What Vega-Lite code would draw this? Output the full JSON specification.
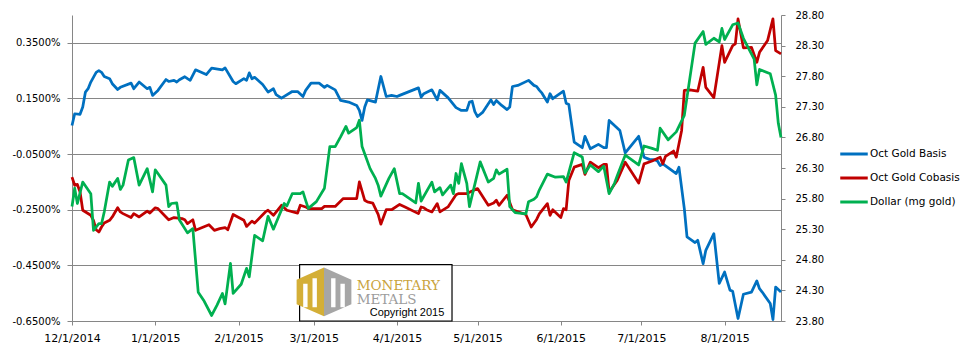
{
  "$schema": "https://vega.github.io/schema/vega-lite/v6.json",
  "width": 709,
  "height": 306,
  "autosize": {"type": "none"},
  "padding": {"left": 72, "top": 15, "right": 192, "bottom": 34},
  "background": "white",
  "config": {
    "view": {"stroke": null},
    "font": "DejaVu Sans",
    "axis": {"labelFont": "DejaVu Sans", "labelColor": "#000000", "domainColor": "#868686", "tickColor": "#868686", "domainWidth": 1, "tickWidth": 1},
    "legend": {"labelFont": "DejaVu Sans", "labelColor": "#000000"}
  },
  "data": {"values": [
    {"date":"2014-12-01","series":"Oct Gold Basis","value":0.053},
    {"date":"2014-12-02","series":"Oct Gold Basis","value":0.095},
    {"date":"2014-12-04","series":"Oct Gold Basis","value":0.093},
    {"date":"2014-12-05","series":"Oct Gold Basis","value":0.119},
    {"date":"2014-12-06","series":"Oct Gold Basis","value":0.173},
    {"date":"2014-12-07","series":"Oct Gold Basis","value":0.185},
    {"date":"2014-12-08","series":"Oct Gold Basis","value":0.209},
    {"date":"2014-12-10","series":"Oct Gold Basis","value":0.244},
    {"date":"2014-12-11","series":"Oct Gold Basis","value":0.25},
    {"date":"2014-12-12","series":"Oct Gold Basis","value":0.244},
    {"date":"2014-12-13","series":"Oct Gold Basis","value":0.229},
    {"date":"2014-12-15","series":"Oct Gold Basis","value":0.221},
    {"date":"2014-12-16","series":"Oct Gold Basis","value":0.203},
    {"date":"2014-12-18","series":"Oct Gold Basis","value":0.182},
    {"date":"2014-12-19","series":"Oct Gold Basis","value":0.19},
    {"date":"2014-12-23","series":"Oct Gold Basis","value":0.205},
    {"date":"2014-12-24","series":"Oct Gold Basis","value":0.185},
    {"date":"2014-12-26","series":"Oct Gold Basis","value":0.209},
    {"date":"2014-12-29","series":"Oct Gold Basis","value":0.185},
    {"date":"2014-12-30","series":"Oct Gold Basis","value":0.19},
    {"date":"2014-12-31","series":"Oct Gold Basis","value":0.161},
    {"date":"2015-01-02","series":"Oct Gold Basis","value":0.179},
    {"date":"2015-01-05","series":"Oct Gold Basis","value":0.218},
    {"date":"2015-01-06","series":"Oct Gold Basis","value":0.211},
    {"date":"2015-01-08","series":"Oct Gold Basis","value":0.215},
    {"date":"2015-01-09","series":"Oct Gold Basis","value":0.209},
    {"date":"2015-01-10","series":"Oct Gold Basis","value":0.217},
    {"date":"2015-01-12","series":"Oct Gold Basis","value":0.228},
    {"date":"2015-01-13","series":"Oct Gold Basis","value":0.221},
    {"date":"2015-01-14","series":"Oct Gold Basis","value":0.215},
    {"date":"2015-01-16","series":"Oct Gold Basis","value":0.253},
    {"date":"2015-01-20","series":"Oct Gold Basis","value":0.236},
    {"date":"2015-01-22","series":"Oct Gold Basis","value":0.259},
    {"date":"2015-01-26","series":"Oct Gold Basis","value":0.253},
    {"date":"2015-01-27","series":"Oct Gold Basis","value":0.26},
    {"date":"2015-01-30","series":"Oct Gold Basis","value":0.211},
    {"date":"2015-01-31","series":"Oct Gold Basis","value":0.203},
    {"date":"2015-02-03","series":"Oct Gold Basis","value":0.221},
    {"date":"2015-02-04","series":"Oct Gold Basis","value":0.215},
    {"date":"2015-02-05","series":"Oct Gold Basis","value":0.242},
    {"date":"2015-02-06","series":"Oct Gold Basis","value":0.221},
    {"date":"2015-02-07","series":"Oct Gold Basis","value":0.226},
    {"date":"2015-02-10","series":"Oct Gold Basis","value":0.2},
    {"date":"2015-02-12","series":"Oct Gold Basis","value":0.173},
    {"date":"2015-02-14","series":"Oct Gold Basis","value":0.185},
    {"date":"2015-02-15","series":"Oct Gold Basis","value":0.164},
    {"date":"2015-02-17","series":"Oct Gold Basis","value":0.151},
    {"date":"2015-02-21","series":"Oct Gold Basis","value":0.175},
    {"date":"2015-02-23","series":"Oct Gold Basis","value":0.175},
    {"date":"2015-02-25","series":"Oct Gold Basis","value":0.157},
    {"date":"2015-02-26","series":"Oct Gold Basis","value":0.179},
    {"date":"2015-02-28","series":"Oct Gold Basis","value":0.205},
    {"date":"2015-03-03","series":"Oct Gold Basis","value":0.205},
    {"date":"2015-03-05","series":"Oct Gold Basis","value":0.19},
    {"date":"2015-03-06","series":"Oct Gold Basis","value":0.197},
    {"date":"2015-03-09","series":"Oct Gold Basis","value":0.181},
    {"date":"2015-03-11","series":"Oct Gold Basis","value":0.143},
    {"date":"2015-03-14","series":"Oct Gold Basis","value":0.137},
    {"date":"2015-03-17","series":"Oct Gold Basis","value":0.125},
    {"date":"2015-03-18","series":"Oct Gold Basis","value":0.107},
    {"date":"2015-03-19","series":"Oct Gold Basis","value":0.071},
    {"date":"2015-03-20","series":"Oct Gold Basis","value":0.119},
    {"date":"2015-03-21","series":"Oct Gold Basis","value":0.145},
    {"date":"2015-03-24","series":"Oct Gold Basis","value":0.137},
    {"date":"2015-03-26","series":"Oct Gold Basis","value":0.229},
    {"date":"2015-03-28","series":"Oct Gold Basis","value":0.157},
    {"date":"2015-03-30","series":"Oct Gold Basis","value":0.161},
    {"date":"2015-04-01","series":"Oct Gold Basis","value":0.157},
    {"date":"2015-04-02","series":"Oct Gold Basis","value":0.161},
    {"date":"2015-04-09","series":"Oct Gold Basis","value":0.188},
    {"date":"2015-04-10","series":"Oct Gold Basis","value":0.155},
    {"date":"2015-04-11","series":"Oct Gold Basis","value":0.167},
    {"date":"2015-04-14","series":"Oct Gold Basis","value":0.181},
    {"date":"2015-04-16","series":"Oct Gold Basis","value":0.145},
    {"date":"2015-04-17","series":"Oct Gold Basis","value":0.179},
    {"date":"2015-04-20","series":"Oct Gold Basis","value":0.153},
    {"date":"2015-04-23","series":"Oct Gold Basis","value":0.117},
    {"date":"2015-04-25","series":"Oct Gold Basis","value":0.107},
    {"date":"2015-04-27","series":"Oct Gold Basis","value":0.107},
    {"date":"2015-04-28","series":"Oct Gold Basis","value":0.137},
    {"date":"2015-04-29","series":"Oct Gold Basis","value":0.14},
    {"date":"2015-04-30","series":"Oct Gold Basis","value":0.103},
    {"date":"2015-05-01","series":"Oct Gold Basis","value":0.085},
    {"date":"2015-05-03","series":"Oct Gold Basis","value":0.101},
    {"date":"2015-05-06","series":"Oct Gold Basis","value":0.145},
    {"date":"2015-05-07","series":"Oct Gold Basis","value":0.128},
    {"date":"2015-05-08","series":"Oct Gold Basis","value":0.143},
    {"date":"2015-05-10","series":"Oct Gold Basis","value":0.125},
    {"date":"2015-05-12","series":"Oct Gold Basis","value":0.11},
    {"date":"2015-05-13","series":"Oct Gold Basis","value":0.119},
    {"date":"2015-05-14","series":"Oct Gold Basis","value":0.193},
    {"date":"2015-05-16","series":"Oct Gold Basis","value":0.197},
    {"date":"2015-05-20","series":"Oct Gold Basis","value":0.215},
    {"date":"2015-05-22","series":"Oct Gold Basis","value":0.197},
    {"date":"2015-05-23","series":"Oct Gold Basis","value":0.193},
    {"date":"2015-05-24","series":"Oct Gold Basis","value":0.18},
    {"date":"2015-05-25","series":"Oct Gold Basis","value":0.169},
    {"date":"2015-05-27","series":"Oct Gold Basis","value":0.137},
    {"date":"2015-05-28","series":"Oct Gold Basis","value":0.167},
    {"date":"2015-05-29","series":"Oct Gold Basis","value":0.149},
    {"date":"2015-06-02","series":"Oct Gold Basis","value":0.176},
    {"date":"2015-06-03","series":"Oct Gold Basis","value":0.133},
    {"date":"2015-06-04","series":"Oct Gold Basis","value":0.128},
    {"date":"2015-06-05","series":"Oct Gold Basis","value":0.059},
    {"date":"2015-06-06","series":"Oct Gold Basis","value":-0.007},
    {"date":"2015-06-09","series":"Oct Gold Basis","value":-0.027},
    {"date":"2015-06-10","series":"Oct Gold Basis","value":0.014},
    {"date":"2015-06-12","series":"Oct Gold Basis","value":-0.031},
    {"date":"2015-06-15","series":"Oct Gold Basis","value":-0.015},
    {"date":"2015-06-17","series":"Oct Gold Basis","value":-0.027},
    {"date":"2015-06-18","series":"Oct Gold Basis","value":-0.027},
    {"date":"2015-06-19","series":"Oct Gold Basis","value":0.071},
    {"date":"2015-06-23","series":"Oct Gold Basis","value":0.035},
    {"date":"2015-06-25","series":"Oct Gold Basis","value":-0.046},
    {"date":"2015-06-30","series":"Oct Gold Basis","value":0.014},
    {"date":"2015-07-02","series":"Oct Gold Basis","value":-0.061},
    {"date":"2015-07-04","series":"Oct Gold Basis","value":-0.069},
    {"date":"2015-07-06","series":"Oct Gold Basis","value":-0.07},
    {"date":"2015-07-07","series":"Oct Gold Basis","value":-0.075},
    {"date":"2015-07-08","series":"Oct Gold Basis","value":-0.091},
    {"date":"2015-07-09","series":"Oct Gold Basis","value":-0.085},
    {"date":"2015-07-14","series":"Oct Gold Basis","value":-0.12},
    {"date":"2015-07-15","series":"Oct Gold Basis","value":-0.097},
    {"date":"2015-07-17","series":"Oct Gold Basis","value":-0.246},
    {"date":"2015-07-18","series":"Oct Gold Basis","value":-0.348},
    {"date":"2015-07-21","series":"Oct Gold Basis","value":-0.368},
    {"date":"2015-07-22","series":"Oct Gold Basis","value":-0.36},
    {"date":"2015-07-24","series":"Oct Gold Basis","value":-0.444},
    {"date":"2015-07-25","series":"Oct Gold Basis","value":-0.396},
    {"date":"2015-07-28","series":"Oct Gold Basis","value":-0.336},
    {"date":"2015-07-30","series":"Oct Gold Basis","value":-0.515},
    {"date":"2015-08-01","series":"Oct Gold Basis","value":-0.474},
    {"date":"2015-08-03","series":"Oct Gold Basis","value":-0.539},
    {"date":"2015-08-04","series":"Oct Gold Basis","value":-0.543},
    {"date":"2015-08-06","series":"Oct Gold Basis","value":-0.641},
    {"date":"2015-08-08","series":"Oct Gold Basis","value":-0.554},
    {"date":"2015-08-11","series":"Oct Gold Basis","value":-0.546},
    {"date":"2015-08-13","series":"Oct Gold Basis","value":-0.506},
    {"date":"2015-08-14","series":"Oct Gold Basis","value":-0.534},
    {"date":"2015-08-15","series":"Oct Gold Basis","value":-0.546},
    {"date":"2015-08-18","series":"Oct Gold Basis","value":-0.587},
    {"date":"2015-08-19","series":"Oct Gold Basis","value":-0.645},
    {"date":"2015-08-20","series":"Oct Gold Basis","value":-0.528},
    {"date":"2015-08-22","series":"Oct Gold Basis","value":-0.546},

    {"date":"2014-12-01","series":"Oct Gold Cobasis","value":-0.133},
    {"date":"2014-12-02","series":"Oct Gold Cobasis","value":-0.162},
    {"date":"2014-12-03","series":"Oct Gold Cobasis","value":-0.159},
    {"date":"2014-12-04","series":"Oct Gold Cobasis","value":-0.186},
    {"date":"2014-12-05","series":"Oct Gold Cobasis","value":-0.252},
    {"date":"2014-12-08","series":"Oct Gold Cobasis","value":-0.27},
    {"date":"2014-12-09","series":"Oct Gold Cobasis","value":-0.288},
    {"date":"2014-12-10","series":"Oct Gold Cobasis","value":-0.322},
    {"date":"2014-12-11","series":"Oct Gold Cobasis","value":-0.33},
    {"date":"2014-12-12","series":"Oct Gold Cobasis","value":-0.312},
    {"date":"2014-12-13","series":"Oct Gold Cobasis","value":-0.298},
    {"date":"2014-12-15","series":"Oct Gold Cobasis","value":-0.288},
    {"date":"2014-12-16","series":"Oct Gold Cobasis","value":-0.276},
    {"date":"2014-12-18","series":"Oct Gold Cobasis","value":-0.243},
    {"date":"2014-12-19","series":"Oct Gold Cobasis","value":-0.258},
    {"date":"2014-12-20","series":"Oct Gold Cobasis","value":-0.264},
    {"date":"2014-12-23","series":"Oct Gold Cobasis","value":-0.278},
    {"date":"2014-12-24","series":"Oct Gold Cobasis","value":-0.264},
    {"date":"2014-12-26","series":"Oct Gold Cobasis","value":-0.276},
    {"date":"2014-12-29","series":"Oct Gold Cobasis","value":-0.255},
    {"date":"2014-12-30","series":"Oct Gold Cobasis","value":-0.262},
    {"date":"2015-01-01","series":"Oct Gold Cobasis","value":-0.243},
    {"date":"2015-01-02","series":"Oct Gold Cobasis","value":-0.246},
    {"date":"2015-01-05","series":"Oct Gold Cobasis","value":-0.276},
    {"date":"2015-01-06","series":"Oct Gold Cobasis","value":-0.286},
    {"date":"2015-01-08","series":"Oct Gold Cobasis","value":-0.278},
    {"date":"2015-01-11","series":"Oct Gold Cobasis","value":-0.282},
    {"date":"2015-01-12","series":"Oct Gold Cobasis","value":-0.286},
    {"date":"2015-01-13","series":"Oct Gold Cobasis","value":-0.3},
    {"date":"2015-01-15","series":"Oct Gold Cobasis","value":-0.286},
    {"date":"2015-01-16","series":"Oct Gold Cobasis","value":-0.324},
    {"date":"2015-01-21","series":"Oct Gold Cobasis","value":-0.304},
    {"date":"2015-01-23","series":"Oct Gold Cobasis","value":-0.324},
    {"date":"2015-01-25","series":"Oct Gold Cobasis","value":-0.318},
    {"date":"2015-01-27","series":"Oct Gold Cobasis","value":-0.314},
    {"date":"2015-01-28","series":"Oct Gold Cobasis","value":-0.322},
    {"date":"2015-01-30","series":"Oct Gold Cobasis","value":-0.267},
    {"date":"2015-02-03","series":"Oct Gold Cobasis","value":-0.288},
    {"date":"2015-02-04","series":"Oct Gold Cobasis","value":-0.31},
    {"date":"2015-02-06","series":"Oct Gold Cobasis","value":-0.291},
    {"date":"2015-02-07","series":"Oct Gold Cobasis","value":-0.298},
    {"date":"2015-02-11","series":"Oct Gold Cobasis","value":-0.258},
    {"date":"2015-02-12","series":"Oct Gold Cobasis","value":-0.252},
    {"date":"2015-02-14","series":"Oct Gold Cobasis","value":-0.27},
    {"date":"2015-02-17","series":"Oct Gold Cobasis","value":-0.234},
    {"date":"2015-02-19","series":"Oct Gold Cobasis","value":-0.252},
    {"date":"2015-02-23","series":"Oct Gold Cobasis","value":-0.262},
    {"date":"2015-02-24","series":"Oct Gold Cobasis","value":-0.234},
    {"date":"2015-02-26","series":"Oct Gold Cobasis","value":-0.24},
    {"date":"2015-02-27","series":"Oct Gold Cobasis","value":-0.246},
    {"date":"2015-03-04","series":"Oct Gold Cobasis","value":-0.246},
    {"date":"2015-03-05","series":"Oct Gold Cobasis","value":-0.238},
    {"date":"2015-03-09","series":"Oct Gold Cobasis","value":-0.238},
    {"date":"2015-03-12","series":"Oct Gold Cobasis","value":-0.21},
    {"date":"2015-03-17","series":"Oct Gold Cobasis","value":-0.21},
    {"date":"2015-03-18","series":"Oct Gold Cobasis","value":-0.15},
    {"date":"2015-03-20","series":"Oct Gold Cobasis","value":-0.216},
    {"date":"2015-03-21","series":"Oct Gold Cobasis","value":-0.222},
    {"date":"2015-03-23","series":"Oct Gold Cobasis","value":-0.226},
    {"date":"2015-03-25","series":"Oct Gold Cobasis","value":-0.267},
    {"date":"2015-03-26","series":"Oct Gold Cobasis","value":-0.302},
    {"date":"2015-03-28","series":"Oct Gold Cobasis","value":-0.25},
    {"date":"2015-03-30","series":"Oct Gold Cobasis","value":-0.25},
    {"date":"2015-04-02","series":"Oct Gold Cobasis","value":-0.231},
    {"date":"2015-04-04","series":"Oct Gold Cobasis","value":-0.24},
    {"date":"2015-04-09","series":"Oct Gold Cobasis","value":-0.264},
    {"date":"2015-04-10","series":"Oct Gold Cobasis","value":-0.24},
    {"date":"2015-04-11","series":"Oct Gold Cobasis","value":-0.243},
    {"date":"2015-04-12","series":"Oct Gold Cobasis","value":-0.25},
    {"date":"2015-04-14","series":"Oct Gold Cobasis","value":-0.258},
    {"date":"2015-04-16","series":"Oct Gold Cobasis","value":-0.228},
    {"date":"2015-04-17","series":"Oct Gold Cobasis","value":-0.258},
    {"date":"2015-04-20","series":"Oct Gold Cobasis","value":-0.24},
    {"date":"2015-04-23","series":"Oct Gold Cobasis","value":-0.196},
    {"date":"2015-04-24","series":"Oct Gold Cobasis","value":-0.192},
    {"date":"2015-04-27","series":"Oct Gold Cobasis","value":-0.192},
    {"date":"2015-05-01","series":"Oct Gold Cobasis","value":-0.174},
    {"date":"2015-05-05","series":"Oct Gold Cobasis","value":-0.234},
    {"date":"2015-05-07","series":"Oct Gold Cobasis","value":-0.226},
    {"date":"2015-05-08","series":"Oct Gold Cobasis","value":-0.216},
    {"date":"2015-05-09","series":"Oct Gold Cobasis","value":-0.234},
    {"date":"2015-05-12","series":"Oct Gold Cobasis","value":-0.198},
    {"date":"2015-05-14","series":"Oct Gold Cobasis","value":-0.25},
    {"date":"2015-05-19","series":"Oct Gold Cobasis","value":-0.267},
    {"date":"2015-05-21","series":"Oct Gold Cobasis","value":-0.312},
    {"date":"2015-05-23","series":"Oct Gold Cobasis","value":-0.285},
    {"date":"2015-05-24","series":"Oct Gold Cobasis","value":-0.265},
    {"date":"2015-05-27","series":"Oct Gold Cobasis","value":-0.228},
    {"date":"2015-05-28","series":"Oct Gold Cobasis","value":-0.27},
    {"date":"2015-05-29","series":"Oct Gold Cobasis","value":-0.25},
    {"date":"2015-06-01","series":"Oct Gold Cobasis","value":-0.278},
    {"date":"2015-06-02","series":"Oct Gold Cobasis","value":-0.246},
    {"date":"2015-06-03","series":"Oct Gold Cobasis","value":-0.25},
    {"date":"2015-06-04","series":"Oct Gold Cobasis","value":-0.145},
    {"date":"2015-06-06","series":"Oct Gold Cobasis","value":-0.097},
    {"date":"2015-06-09","series":"Oct Gold Cobasis","value":-0.087},
    {"date":"2015-06-10","series":"Oct Gold Cobasis","value":-0.123},
    {"date":"2015-06-12","series":"Oct Gold Cobasis","value":-0.079},
    {"date":"2015-06-15","series":"Oct Gold Cobasis","value":-0.099},
    {"date":"2015-06-17","series":"Oct Gold Cobasis","value":-0.087},
    {"date":"2015-06-18","series":"Oct Gold Cobasis","value":-0.087},
    {"date":"2015-06-19","series":"Oct Gold Cobasis","value":-0.186},
    {"date":"2015-06-22","series":"Oct Gold Cobasis","value":-0.145},
    {"date":"2015-06-25","series":"Oct Gold Cobasis","value":-0.079},
    {"date":"2015-06-27","series":"Oct Gold Cobasis","value":-0.109},
    {"date":"2015-06-30","series":"Oct Gold Cobasis","value":-0.154},
    {"date":"2015-07-02","series":"Oct Gold Cobasis","value":-0.085},
    {"date":"2015-07-05","series":"Oct Gold Cobasis","value":-0.075},
    {"date":"2015-07-08","series":"Oct Gold Cobasis","value":-0.061},
    {"date":"2015-07-09","series":"Oct Gold Cobasis","value":-0.085},
    {"date":"2015-07-10","series":"Oct Gold Cobasis","value":-0.058},
    {"date":"2015-07-13","series":"Oct Gold Cobasis","value":-0.039},
    {"date":"2015-07-14","series":"Oct Gold Cobasis","value":-0.061},
    {"date":"2015-07-16","series":"Oct Gold Cobasis","value":0.035},
    {"date":"2015-07-17","series":"Oct Gold Cobasis","value":0.179},
    {"date":"2015-07-19","series":"Oct Gold Cobasis","value":0.181},
    {"date":"2015-07-22","series":"Oct Gold Cobasis","value":0.176},
    {"date":"2015-07-24","series":"Oct Gold Cobasis","value":0.262},
    {"date":"2015-07-25","series":"Oct Gold Cobasis","value":0.19},
    {"date":"2015-07-28","series":"Oct Gold Cobasis","value":0.153},
    {"date":"2015-07-31","series":"Oct Gold Cobasis","value":0.34},
    {"date":"2015-08-01","series":"Oct Gold Cobasis","value":0.28},
    {"date":"2015-08-04","series":"Oct Gold Cobasis","value":0.34},
    {"date":"2015-08-05","series":"Oct Gold Cobasis","value":0.346},
    {"date":"2015-08-06","series":"Oct Gold Cobasis","value":0.436},
    {"date":"2015-08-08","series":"Oct Gold Cobasis","value":0.332},
    {"date":"2015-08-11","series":"Oct Gold Cobasis","value":0.334},
    {"date":"2015-08-13","series":"Oct Gold Cobasis","value":0.28},
    {"date":"2015-08-14","series":"Oct Gold Cobasis","value":0.316},
    {"date":"2015-08-17","series":"Oct Gold Cobasis","value":0.358},
    {"date":"2015-08-19","series":"Oct Gold Cobasis","value":0.436},
    {"date":"2015-08-20","series":"Oct Gold Cobasis","value":0.322},
    {"date":"2015-08-22","series":"Oct Gold Cobasis","value":0.31},

    {"date":"2014-12-01","series":"Dollar (mg gold)","value":25.67},
    {"date":"2014-12-02","series":"Dollar (mg gold)","value":25.97},
    {"date":"2014-12-03","series":"Dollar (mg gold)","value":25.72},
    {"date":"2014-12-05","series":"Dollar (mg gold)","value":26.07},
    {"date":"2014-12-08","series":"Dollar (mg gold)","value":25.88},
    {"date":"2014-12-09","series":"Dollar (mg gold)","value":25.28},
    {"date":"2014-12-11","series":"Dollar (mg gold)","value":25.39},
    {"date":"2014-12-12","series":"Dollar (mg gold)","value":25.39},
    {"date":"2014-12-13","series":"Dollar (mg gold)","value":25.58},
    {"date":"2014-12-15","series":"Dollar (mg gold)","value":26.07},
    {"date":"2014-12-16","series":"Dollar (mg gold)","value":26.0},
    {"date":"2014-12-18","series":"Dollar (mg gold)","value":26.13},
    {"date":"2014-12-19","series":"Dollar (mg gold)","value":25.95},
    {"date":"2014-12-20","series":"Dollar (mg gold)","value":26.02},
    {"date":"2014-12-22","series":"Dollar (mg gold)","value":26.43},
    {"date":"2014-12-24","series":"Dollar (mg gold)","value":26.47},
    {"date":"2014-12-26","series":"Dollar (mg gold)","value":26.02},
    {"date":"2014-12-29","series":"Dollar (mg gold)","value":26.29},
    {"date":"2014-12-31","series":"Dollar (mg gold)","value":25.91},
    {"date":"2015-01-01","series":"Dollar (mg gold)","value":26.27},
    {"date":"2015-01-02","series":"Dollar (mg gold)","value":26.21},
    {"date":"2015-01-05","series":"Dollar (mg gold)","value":26.02},
    {"date":"2015-01-06","series":"Dollar (mg gold)","value":25.67},
    {"date":"2015-01-07","series":"Dollar (mg gold)","value":25.72},
    {"date":"2015-01-09","series":"Dollar (mg gold)","value":25.73},
    {"date":"2015-01-10","series":"Dollar (mg gold)","value":25.45},
    {"date":"2015-01-13","series":"Dollar (mg gold)","value":25.24},
    {"date":"2015-01-15","series":"Dollar (mg gold)","value":25.31},
    {"date":"2015-01-17","series":"Dollar (mg gold)","value":24.27},
    {"date":"2015-01-19","series":"Dollar (mg gold)","value":24.14},
    {"date":"2015-01-22","series":"Dollar (mg gold)","value":23.89},
    {"date":"2015-01-24","series":"Dollar (mg gold)","value":24.06},
    {"date":"2015-01-26","series":"Dollar (mg gold)","value":24.25},
    {"date":"2015-01-27","series":"Dollar (mg gold)","value":24.08},
    {"date":"2015-01-29","series":"Dollar (mg gold)","value":24.74},
    {"date":"2015-01-30","series":"Dollar (mg gold)","value":24.25},
    {"date":"2015-02-02","series":"Dollar (mg gold)","value":24.4},
    {"date":"2015-02-04","series":"Dollar (mg gold)","value":24.66},
    {"date":"2015-02-05","series":"Dollar (mg gold)","value":24.52},
    {"date":"2015-02-07","series":"Dollar (mg gold)","value":25.2},
    {"date":"2015-02-10","series":"Dollar (mg gold)","value":25.11},
    {"date":"2015-02-12","series":"Dollar (mg gold)","value":25.51},
    {"date":"2015-02-14","series":"Dollar (mg gold)","value":25.3},
    {"date":"2015-02-18","series":"Dollar (mg gold)","value":25.72},
    {"date":"2015-02-19","series":"Dollar (mg gold)","value":25.68},
    {"date":"2015-02-21","series":"Dollar (mg gold)","value":25.88},
    {"date":"2015-02-24","series":"Dollar (mg gold)","value":25.88},
    {"date":"2015-02-25","series":"Dollar (mg gold)","value":25.91},
    {"date":"2015-02-26","series":"Dollar (mg gold)","value":25.77},
    {"date":"2015-02-27","series":"Dollar (mg gold)","value":25.64},
    {"date":"2015-03-02","series":"Dollar (mg gold)","value":25.75},
    {"date":"2015-03-05","series":"Dollar (mg gold)","value":25.97},
    {"date":"2015-03-07","series":"Dollar (mg gold)","value":26.65},
    {"date":"2015-03-09","series":"Dollar (mg gold)","value":26.65},
    {"date":"2015-03-11","series":"Dollar (mg gold)","value":26.81},
    {"date":"2015-03-13","series":"Dollar (mg gold)","value":26.98},
    {"date":"2015-03-14","series":"Dollar (mg gold)","value":26.87},
    {"date":"2015-03-17","series":"Dollar (mg gold)","value":26.96},
    {"date":"2015-03-18","series":"Dollar (mg gold)","value":27.08},
    {"date":"2015-03-19","series":"Dollar (mg gold)","value":26.65},
    {"date":"2015-03-22","series":"Dollar (mg gold)","value":26.29},
    {"date":"2015-03-24","series":"Dollar (mg gold)","value":26.13},
    {"date":"2015-03-25","series":"Dollar (mg gold)","value":26.02},
    {"date":"2015-03-26","series":"Dollar (mg gold)","value":25.84},
    {"date":"2015-03-29","series":"Dollar (mg gold)","value":26.13},
    {"date":"2015-03-31","series":"Dollar (mg gold)","value":26.29},
    {"date":"2015-04-02","series":"Dollar (mg gold)","value":25.88},
    {"date":"2015-04-03","series":"Dollar (mg gold)","value":25.88},
    {"date":"2015-04-08","series":"Dollar (mg gold)","value":25.73},
    {"date":"2015-04-09","series":"Dollar (mg gold)","value":26.05},
    {"date":"2015-04-10","series":"Dollar (mg gold)","value":25.76},
    {"date":"2015-04-14","series":"Dollar (mg gold)","value":26.07},
    {"date":"2015-04-15","series":"Dollar (mg gold)","value":25.91},
    {"date":"2015-04-17","series":"Dollar (mg gold)","value":25.98},
    {"date":"2015-04-18","series":"Dollar (mg gold)","value":25.86},
    {"date":"2015-04-21","series":"Dollar (mg gold)","value":26.02},
    {"date":"2015-04-22","series":"Dollar (mg gold)","value":25.88},
    {"date":"2015-04-23","series":"Dollar (mg gold)","value":26.21},
    {"date":"2015-04-24","series":"Dollar (mg gold)","value":26.05},
    {"date":"2015-04-25","series":"Dollar (mg gold)","value":26.37},
    {"date":"2015-04-27","series":"Dollar (mg gold)","value":26.05},
    {"date":"2015-04-28","series":"Dollar (mg gold)","value":25.67},
    {"date":"2015-05-02","series":"Dollar (mg gold)","value":26.4},
    {"date":"2015-05-05","series":"Dollar (mg gold)","value":26.07},
    {"date":"2015-05-07","series":"Dollar (mg gold)","value":26.13},
    {"date":"2015-05-08","series":"Dollar (mg gold)","value":26.27},
    {"date":"2015-05-09","series":"Dollar (mg gold)","value":26.2},
    {"date":"2015-05-12","series":"Dollar (mg gold)","value":26.28},
    {"date":"2015-05-13","series":"Dollar (mg gold)","value":25.67},
    {"date":"2015-05-15","series":"Dollar (mg gold)","value":25.57},
    {"date":"2015-05-19","series":"Dollar (mg gold)","value":25.55},
    {"date":"2015-05-20","series":"Dollar (mg gold)","value":25.75},
    {"date":"2015-05-22","series":"Dollar (mg gold)","value":25.79},
    {"date":"2015-05-23","series":"Dollar (mg gold)","value":25.83},
    {"date":"2015-05-24","series":"Dollar (mg gold)","value":25.94},
    {"date":"2015-05-27","series":"Dollar (mg gold)","value":26.2},
    {"date":"2015-05-30","series":"Dollar (mg gold)","value":26.15},
    {"date":"2015-06-02","series":"Dollar (mg gold)","value":26.16},
    {"date":"2015-06-03","series":"Dollar (mg gold)","value":26.07},
    {"date":"2015-06-06","series":"Dollar (mg gold)","value":26.55},
    {"date":"2015-06-09","series":"Dollar (mg gold)","value":26.48},
    {"date":"2015-06-10","series":"Dollar (mg gold)","value":26.22},
    {"date":"2015-06-12","series":"Dollar (mg gold)","value":26.35},
    {"date":"2015-06-15","series":"Dollar (mg gold)","value":26.24},
    {"date":"2015-06-17","series":"Dollar (mg gold)","value":26.33},
    {"date":"2015-06-19","series":"Dollar (mg gold)","value":25.88},
    {"date":"2015-06-21","series":"Dollar (mg gold)","value":26.05},
    {"date":"2015-06-22","series":"Dollar (mg gold)","value":26.17},
    {"date":"2015-06-24","series":"Dollar (mg gold)","value":26.4},
    {"date":"2015-06-25","series":"Dollar (mg gold)","value":26.51},
    {"date":"2015-06-30","series":"Dollar (mg gold)","value":26.35},
    {"date":"2015-07-02","series":"Dollar (mg gold)","value":26.66},
    {"date":"2015-07-05","series":"Dollar (mg gold)","value":26.62},
    {"date":"2015-07-07","series":"Dollar (mg gold)","value":26.59},
    {"date":"2015-07-08","series":"Dollar (mg gold)","value":26.95},
    {"date":"2015-07-11","series":"Dollar (mg gold)","value":26.76},
    {"date":"2015-07-14","series":"Dollar (mg gold)","value":26.89},
    {"date":"2015-07-17","series":"Dollar (mg gold)","value":27.16},
    {"date":"2015-07-21","series":"Dollar (mg gold)","value":28.34},
    {"date":"2015-07-24","series":"Dollar (mg gold)","value":28.53},
    {"date":"2015-07-25","series":"Dollar (mg gold)","value":28.32},
    {"date":"2015-07-28","series":"Dollar (mg gold)","value":28.42},
    {"date":"2015-07-30","series":"Dollar (mg gold)","value":28.36},
    {"date":"2015-07-31","series":"Dollar (mg gold)","value":28.58},
    {"date":"2015-08-01","series":"Dollar (mg gold)","value":28.4},
    {"date":"2015-08-04","series":"Dollar (mg gold)","value":28.64},
    {"date":"2015-08-06","series":"Dollar (mg gold)","value":28.67},
    {"date":"2015-08-08","series":"Dollar (mg gold)","value":28.42},
    {"date":"2015-08-12","series":"Dollar (mg gold)","value":28.08},
    {"date":"2015-08-13","series":"Dollar (mg gold)","value":27.66},
    {"date":"2015-08-14","series":"Dollar (mg gold)","value":27.91},
    {"date":"2015-08-18","series":"Dollar (mg gold)","value":27.84},
    {"date":"2015-08-20","series":"Dollar (mg gold)","value":27.49},
    {"date":"2015-08-21","series":"Dollar (mg gold)","value":27.03},
    {"date":"2015-08-22","series":"Dollar (mg gold)","value":26.8}
  ]},
  "encoding": {
    "x": {
      "field": "date", "type": "temporal", "title": null,
      "scale": {"type": "utc", "domain": [{"year": 2014, "month": 12, "date": 1, "utc": true}, {"year": 2015, "month": 8, "date": 22, "utc": true}]},
      "axis": {
        "values": [
          {"year": 2014, "month": 12, "date": 1, "utc": true},
          {"year": 2015, "month": 1, "date": 1, "utc": true},
          {"year": 2015, "month": 2, "date": 1, "utc": true},
          {"year": 2015, "month": 3, "date": 1, "utc": true},
          {"year": 2015, "month": 4, "date": 1, "utc": true},
          {"year": 2015, "month": 5, "date": 1, "utc": true},
          {"year": 2015, "month": 6, "date": 1, "utc": true},
          {"year": 2015, "month": 7, "date": 1, "utc": true},
          {"year": 2015, "month": 8, "date": 1, "utc": true}
        ],
        "labelExpr": "utcFormat(datum.value, '%-m/%-d/%Y')",
        "grid": false, "tickSize": 4, "labelPadding": 7, "labelFontSize": 11, "labelAngle": 0, "labelFlush": false, "labelOverlap": false
      }
    }
  },
  "layer": [
    {
      "layer": [
        {
          "transform": [{"filter": "datum.series !== 'Dollar (mg gold)'"}],
          "mark": {"type": "line", "strokeWidth": 2.75, "strokeJoin": "round"},
          "encoding": {
            "y": {
              "field": "value", "type": "quantitative", "title": null,
              "scale": {"domain": [-0.65, 0.45], "nice": false, "zero": false},
              "axis": {
                "values": [-0.65, -0.45, -0.25, -0.05, 0.15, 0.35],
                "labelExpr": "replace(format(datum.value, '.4f'), '\u2212', '-') + '%'",
                "grid": true, "gridColor": "#868686", "gridWidth": 1,
                "tickSize": 5, "labelPadding": 7, "labelFontSize": 10
              }
            },
            "color": {
              "field": "series", "type": "nominal",
              "scale": {"domain": ["Oct Gold Basis", "Oct Gold Cobasis", "Dollar (mg gold)"], "range": ["#0070C0", "#C00000", "#00B050"]},
              "legend": {
                "orient": "none", "legendX": 775, "legendY": 132, "title": null,
                "symbolType": "M-2.5,0H2.5", "symbolSize": 121, "symbolStrokeWidth": 3,
                "labelOffset": 9, "labelFontSize": 10.5, "rowPadding": 11, "padding": 0
              }
            }
          }
        },
        {
          "transform": [{"filter": "datum.series === 'Oct Gold Basis' && datum.value === 0.053"}],
          "mark": {"type": "rect", "fill": "white", "stroke": "black", "strokeWidth": 1.2},
          "encoding": {
            "x": {"datum": {"year": 2015, "month": 2, "date": 23, "hours": 18, "utc": true}, "type": "temporal", "title": null},
            "x2": {"datum": {"year": 2015, "month": 4, "date": 21, "hours": 12, "utc": true}},
            "y": {"datum": -0.447, "type": "quantitative", "title": null},
            "y2": {"datum": -0.65}
          }
        },
        {
          "transform": [{"filter": "datum.series === 'Oct Gold Basis' && datum.value === 0.053"}],
          "mark": {"type": "point", "filled": true, "fill": "#D4AF37", "opacity": 1, "strokeWidth": 0, "size": 3000,
                   "shape": "M0,-0.89L-1,-0.45L-1,0.45L0,0.89Z M-0.76,-0.3L-0.6,-0.3L-0.6,0.56L-0.76,0.56Z M-0.42,-0.5L-0.26,-0.5L-0.26,0.56L-0.42,0.56Z"},
          "encoding": {
            "x": {"datum": {"year": 2015, "month": 3, "date": 4, "hours": 20, "utc": true}, "type": "temporal", "title": null},
            "y": {"datum": -0.5456, "type": "quantitative", "title": null}
          }
        },
        {
          "transform": [{"filter": "datum.series === 'Oct Gold Basis' && datum.value === 0.053"}],
          "mark": {"type": "point", "filled": true, "fill": "#A6A6A6", "opacity": 1, "strokeWidth": 0, "size": 3000,
                   "shape": "M0,-0.89L1,-0.45L1,0.45L0,0.89Z M0.26,-0.5L0.26,0.56L0.42,0.56L0.42,-0.5Z M0.6,-0.3L0.6,0.56L0.76,0.56L0.76,-0.3Z"},
          "encoding": {
            "x": {"datum": {"year": 2015, "month": 3, "date": 4, "hours": 20, "utc": true}, "type": "temporal", "title": null},
            "y": {"datum": -0.5456, "type": "quantitative", "title": null}
          }
        },
        {
          "transform": [{"filter": "datum.series === 'Oct Gold Basis' && datum.value === 0.053"}],
          "mark": {"type": "text", "text": "MONETARY", "font": "DejaVu Serif", "fontSize": 13.5, "fill": "#C9A33C", "align": "left", "baseline": "middle"},
          "encoding": {
            "x": {"datum": {"year": 2015, "month": 3, "date": 17, "hours": 0, "utc": true}, "type": "temporal", "title": null},
            "y": {"datum": -0.5224, "type": "quantitative", "title": null}
          }
        },
        {
          "transform": [{"filter": "datum.series === 'Oct Gold Basis' && datum.value === 0.053"}],
          "mark": {"type": "text", "text": "METALS", "font": "DejaVu Serif", "fontSize": 13.5, "fill": "#9C9C9C", "align": "left", "baseline": "middle"},
          "encoding": {
            "x": {"datum": {"year": 2015, "month": 3, "date": 17, "hours": 0, "utc": true}, "type": "temporal", "title": null},
            "y": {"datum": -0.5745, "type": "quantitative", "title": null}
          }
        },
        {
          "transform": [{"filter": "datum.series === 'Oct Gold Basis' && datum.value === 0.053"}],
          "mark": {"type": "text", "text": "Copyright 2015", "font": "Liberation Sans", "fontSize": 11, "fill": "#000000", "align": "right", "baseline": "middle"},
          "encoding": {
            "x": {"datum": {"year": 2015, "month": 4, "date": 18, "hours": 15, "utc": true}, "type": "temporal", "title": null},
            "y": {"datum": -0.6213, "type": "quantitative", "title": null}
          }
        }
      ]
    },
    {
      "transform": [{"filter": "datum.series === 'Dollar (mg gold)'"}],
      "mark": {"type": "line", "strokeWidth": 2.75, "strokeJoin": "round"},
      "encoding": {
        "y": {
          "field": "value", "type": "quantitative", "title": null,
          "scale": {"domain": [23.8, 28.8], "nice": false, "zero": false},
          "axis": {
            "orient": "right",
            "values": [23.8, 24.3, 24.8, 25.3, 25.8, 26.3, 26.8, 27.3, 27.8, 28.3, 28.8],
            "format": ".2f", "grid": false, "tickSize": 4, "labelPadding": 10, "labelFontSize": 10
          }
        },
        "color": {"field": "series", "type": "nominal"}
      }
    }
  ],
  "resolve": {"scale": {"y": "independent"}}
}
